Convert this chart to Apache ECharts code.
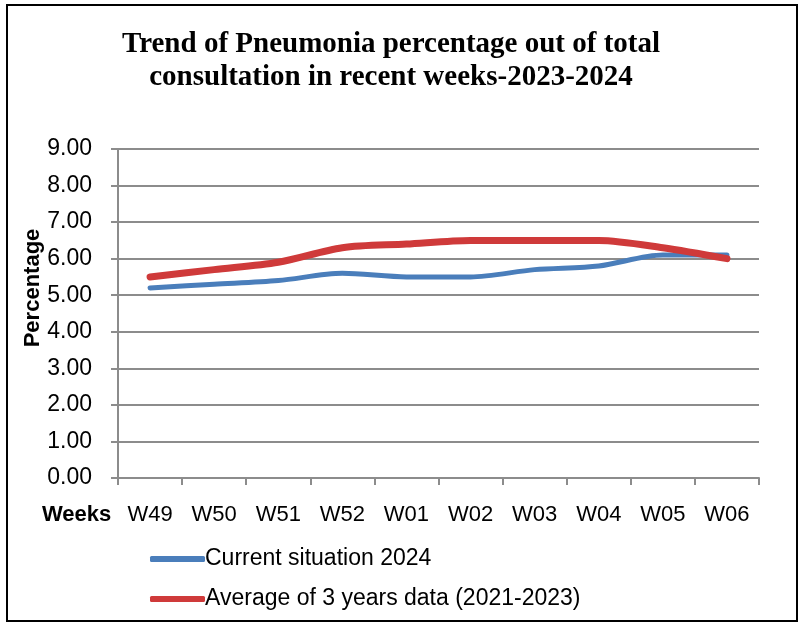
<!DOCTYPE html>
<html>
<head>
<meta charset="utf-8">
<script src="https://cdn.jsdelivr.net/npm/echarts@6/dist/echarts.min.js"></script>
<style>
html,body{margin:0;padding:0;background:#fff;}
#main{width:804px;height:624px;}
</style>
</head>
<body>
<div id="main"></div>
<script>
const categories = ['W49','W50','W51','W52','W01','W02','W03','W04','W05','W06'];
const currentValues = [5.2, 5.3, 5.4, 5.6, 5.5, 5.5, 5.7, 5.8, 6.1, 6.1];
const averageValues = [5.5, 5.7, 5.9, 6.3, 6.4, 6.5, 6.5, 6.5, 6.3, 6.0];
const seriesNames = ['Current situation 2024', 'Average of 3 years data (2021-2023)'];
const titleText = 'Trend of Pneumonia percentage out of total\nconsultation in recent weeks-2023-2024';

const chart = echarts.init(document.getElementById('main'));
const gray = '#8c8c8c';
chart.setOption({
  backgroundColor: '#fff',
  animation: false,
  title: {
    text: titleText,
    left: 386, top: 23, textAlign: 'center',
    textStyle: {fontFamily: 'Liberation Serif', fontWeight: 'bold', fontSize: 29, lineHeight: 33, color: '#000'}
  },
  legend: {
    orient: 'vertical', left: 145, top: 541,
    itemWidth: 55, itemHeight: 6, itemGap: 14,
    icon: 'roundRect',
    textStyle: {fontFamily: 'Liberation Sans', fontSize: 23, lineHeight: 26, color: '#000', padding: [0,0,0,-5]},
    data: seriesNames
  },
  grid: {left: 118, right: 45, top: 149, bottom: 146},
  xAxis: {
    type: 'category', data: categories, boundaryGap: true,
    axisLine: {lineStyle: {color: gray, width: 2}},
    axisTick: {show: true, alignWithLabel: false, length: 7, lineStyle: {color: gray, width: 2}},
    axisLabel: {fontFamily: 'Liberation Sans', fontSize: 22, color: '#000', margin: 26, interval: 0}
  },
  yAxis: {
    type: 'value', min: 0, max: 9, interval: 1,
    axisLine: {show: true, lineStyle: {color: gray, width: 2}},
    axisTick: {show: true, length: 7, lineStyle: {color: gray, width: 2}},
    splitLine: {lineStyle: {color: gray, width: 2}},
    axisLabel: {fontFamily: 'Liberation Sans', fontSize: 23, color: '#000', margin: 26,
      formatter: v => v.toFixed(2)}
  },
  graphic: [
    {type: 'rect', shape: {x: 7, y: 5, width: 790, height: 616},
      style: {fill: 'none', stroke: '#000', lineWidth: 2}, silent: true},
    {type: 'text', x: 42, y: 515,
      style: {text: 'Weeks', font: 'bold 22px "Liberation Sans"', fill: '#000', verticalAlign: 'middle'}},
    {type: 'text', x: 33, y: 288, rotation: Math.PI / 2,
      style: {text: 'Percentage', font: 'bold 22px "Liberation Sans"', fill: '#000', align: 'center', verticalAlign: 'middle'}}
  ],
  series: [
    {name: seriesNames[0], type: 'line', data: currentValues, smooth: 0.3, showSymbol: false,
      lineStyle: {color: '#4A7EBB', width: 5, cap: 'round'}, itemStyle: {color: '#4A7EBB'}},
    {name: seriesNames[1], type: 'line', data: averageValues, smooth: 0.3, showSymbol: false,
      lineStyle: {color: '#CF3A3A', width: 7, cap: 'round'}, itemStyle: {color: '#CF3A3A'}}
  ]
});
</script>
</body>
</html>
